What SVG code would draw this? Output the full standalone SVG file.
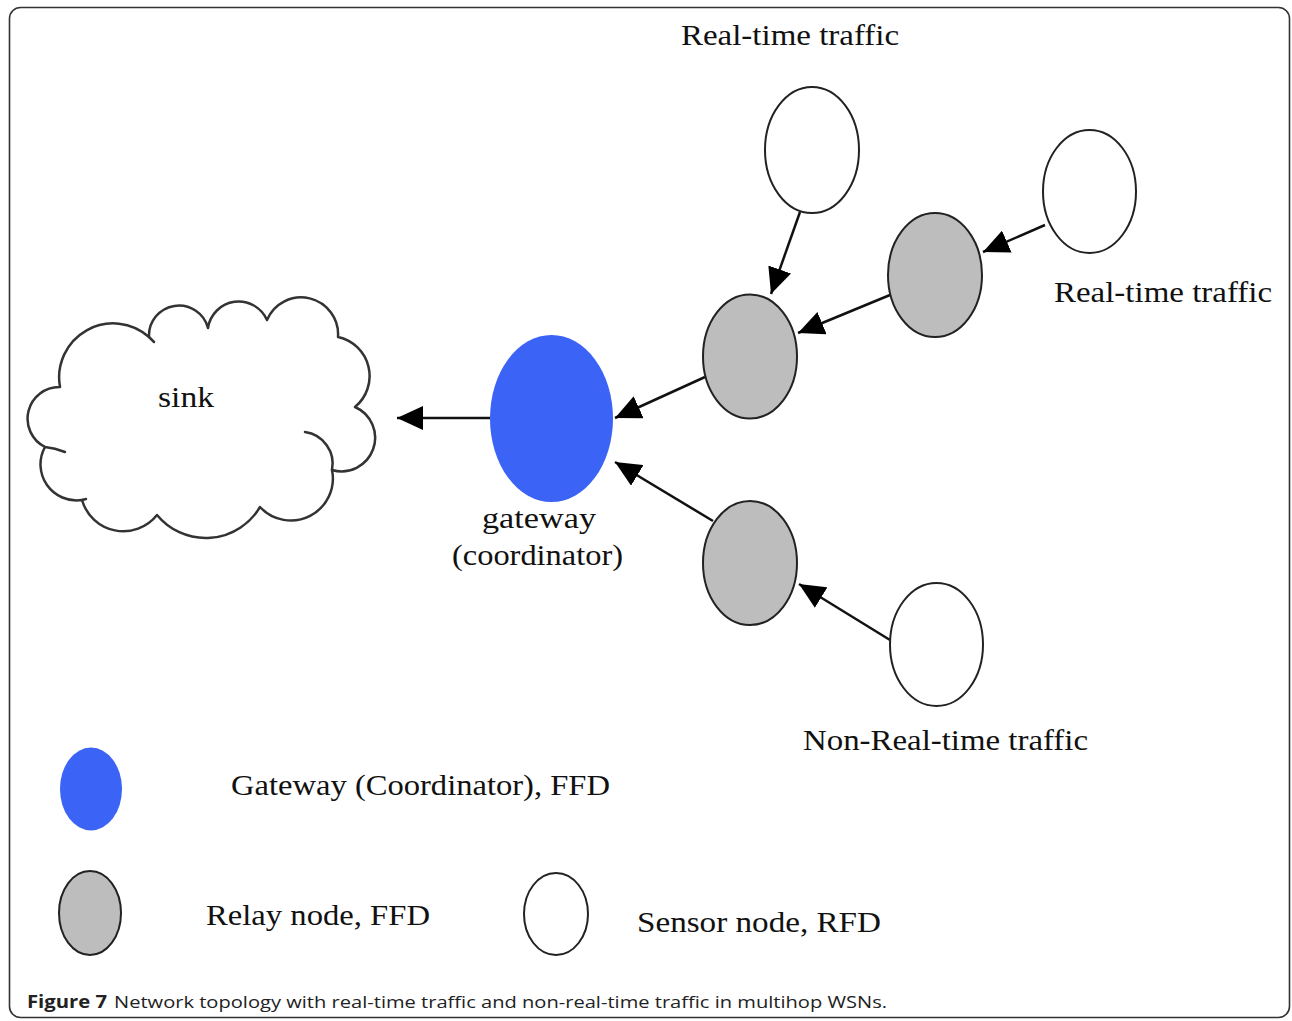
<svg xmlns="http://www.w3.org/2000/svg" width="1292" height="1021" viewBox="0 0 1292 1021">
  <style>
    .lbl { font-family: "Liberation Serif", "Times New Roman", serif; font-size: 30px; fill: #111; }
    .cap { font-family: "Open Sans", "Liberation Sans", Arial, sans-serif; font-size: 17px; fill: #222; }
    .sensor { fill: #ffffff; stroke: #222; stroke-width: 2; }
    .relay { fill: #bdbdbd; stroke: #222; stroke-width: 2; }
    .gw { fill: #3b63f6; }
    .edge { stroke: #111; stroke-width: 2.5; fill: none; marker-end: url(#head); }
    .cloud { fill: #fff; stroke: #333; stroke-width: 2.5; stroke-linejoin: round; stroke-linecap: round; }
  </style>
  <defs>
    <marker id="head" viewBox="0 0 26 24" refX="26" refY="12" markerWidth="26" markerHeight="24" markerUnits="userSpaceOnUse" orient="auto">
      <path d="M0,0 L26,12 L0,24 Z" fill="#000"/>
    </marker>
  </defs>

  <rect width="1292" height="1021" fill="#ffffff"/>
  <!-- figure frame -->
  <rect x="9.5" y="7.5" width="1280" height="1010" rx="11" ry="11" fill="none" stroke="#333" stroke-width="1.6"/>

  <!-- sink cloud -->
  <g id="sink">
    <path class="cloud" d="M60,387 A54,54 0 0 1 149,337 A30,30 0 0 1 208,328 A31,31 0 0 1 267,320 A37,37 0 0 1 338,337 A40,40 0 0 1 355,407 A33.6,33.6 0 0 1 332,470 A42,42 0 0 1 260,507 A63,63 0 0 1 157,515 A43,43 0 0 1 82,500 A36,36 0 0 1 45,447 A31.7,31.7 0 0 1 60,387 Z"/>
    <path class="cloud" fill="none" d="M305,432 A32,32 0 0 1 332,470"/>
    <path class="cloud" fill="none" d="M45,447 Q55,448 65,452"/>
    <path class="cloud" fill="none" d="M149,337 L154,342"/>
    <path class="cloud" fill="none" d="M82,500 L86,499"/>
    <text class="lbl" x="158" y="407" textLength="56" lengthAdjust="spacingAndGlyphs">sink</text>
  </g>

  <!-- connectors -->
  <g id="connectors">
    <line class="edge" x1="490" y1="418" x2="397" y2="418"/>
    <line class="edge" x1="705" y1="377" x2="615" y2="418"/>
    <line class="edge" x1="713" y1="521" x2="615" y2="462"/>
    <line class="edge" x1="800" y1="212" x2="771" y2="294"/>
    <line class="edge" x1="890" y1="295" x2="798" y2="333"/>
    <line class="edge" x1="1045" y1="225" x2="983" y2="252"/>
    <line class="edge" x1="890" y1="640" x2="799" y2="584"/>
  </g>

  <!-- gateway / coordinator -->
  <g id="gateway">
    <ellipse class="gw" cx="551.5" cy="418.5" rx="61.5" ry="83.5"/>
    <text class="lbl" x="482" y="528" textLength="114" lengthAdjust="spacingAndGlyphs">gateway</text>
    <text class="lbl" x="452" y="565" textLength="171" lengthAdjust="spacingAndGlyphs">(coordinator)</text>
  </g>

  <!-- relay nodes -->
  <g id="relay-1"><ellipse class="relay" cx="750" cy="356.5" rx="47" ry="62"/></g>
  <g id="relay-2"><ellipse class="relay" cx="750" cy="563" rx="47" ry="62"/></g>
  <g id="relay-3"><ellipse class="relay" cx="935" cy="275" rx="47" ry="62"/></g>

  <!-- sensor nodes -->
  <g id="sensor-top">
    <ellipse class="sensor" cx="812" cy="150" rx="47" ry="63"/>
    <text class="lbl" x="681" y="45" textLength="218" lengthAdjust="spacingAndGlyphs">Real-time traffic</text>
  </g>
  <g id="sensor-right">
    <ellipse class="sensor" cx="1089.5" cy="191.5" rx="46.5" ry="61.5"/>
    <text class="lbl" x="1054" y="302" textLength="218" lengthAdjust="spacingAndGlyphs">Real-time traffic</text>
  </g>
  <g id="sensor-bottom">
    <ellipse class="sensor" cx="936.5" cy="644.5" rx="46.5" ry="61.5"/>
    <text class="lbl" x="803" y="750" textLength="285" lengthAdjust="spacingAndGlyphs">Non-Real-time traffic</text>
  </g>

  <!-- legend -->
  <g id="legend-gateway">
    <ellipse class="gw" cx="91" cy="789" rx="31" ry="41.5"/>
    <text class="lbl" x="231" y="795" textLength="379" lengthAdjust="spacingAndGlyphs">Gateway (Coordinator), FFD</text>
  </g>
  <g id="legend-relay">
    <ellipse class="relay" cx="90" cy="913" rx="31" ry="42"/>
    <text class="lbl" x="206" y="925" textLength="224" lengthAdjust="spacingAndGlyphs">Relay node, FFD</text>
  </g>
  <g id="legend-sensor">
    <ellipse class="sensor" cx="556" cy="914" rx="32" ry="41"/>
    <text class="lbl" x="637" y="932" textLength="244" lengthAdjust="spacingAndGlyphs">Sensor node, RFD</text>
  </g>

  <!-- caption -->
  <text class="cap" x="27" y="1008" font-weight="bold" textLength="80" lengthAdjust="spacingAndGlyphs">Figure 7</text>
  <text class="cap" x="114" y="1008" textLength="773" lengthAdjust="spacingAndGlyphs">Network topology with real-time traffic and non-real-time traffic in multihop WSNs.</text>
</svg>
